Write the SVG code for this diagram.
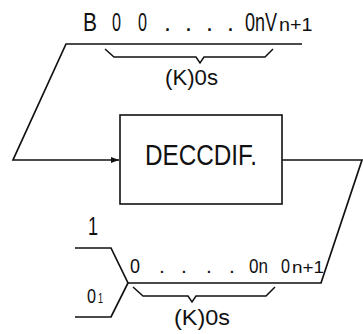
<svg xmlns="http://www.w3.org/2000/svg" width="363" height="334" viewBox="0 0 363 334">
<style>
.ln{fill:none;stroke:#111;stroke-width:1.7;stroke-linejoin:miter}
.br{fill:none;stroke:#111;stroke-width:1.5}
text{font-family:"Liberation Sans","DejaVu Sans",sans-serif;fill:#111}
.t24{font-size:25px}
.t21{font-size:21px}
.t16{font-size:16px}
</style>
<defs>
<marker id="ah" markerWidth="8" markerHeight="6" refX="8" refY="3" orient="auto" markerUnits="userSpaceOnUse">
<path d="M0,0 L8,3 L0,6 Z" fill="#111"/>
</marker>
</defs>
<rect width="363" height="334" fill="#fff"/>
<g id="connectors">
<path class="ln" d="M302,44 L66,44 L13,160 L119,160" marker-end="url(#ah)"/>
<path class="ln" d="M282,160 L362,160 L321,283 L128,283"/>
<path class="ln" d="M75,248 L111,248 L128,283 L111,317 L75,317"/>
</g>
<g id="decoder">
<rect x="120" y="115" width="162" height="89" fill="#fff" stroke="#111" stroke-width="1.6"/>
<text x="145" y="165" font-size="30" textLength="112" lengthAdjust="spacingAndGlyphs">DECCDIF.</text>
</g>
<g id="top-sequence">
<text class="t24" x="83" y="31" textLength="14" lengthAdjust="spacingAndGlyphs">B</text>
<text class="t24" x="112" y="31" textLength="9" lengthAdjust="spacingAndGlyphs">0</text>
<text class="t24" x="138" y="31" textLength="9" lengthAdjust="spacingAndGlyphs">0</text>
<text class="t24" x="164" y="31">.</text>
<text class="t24" x="185" y="31">.</text>
<text class="t24" x="206" y="31">.</text>
<text class="t24" x="227" y="31">.</text>
<text class="t24" transform="translate(245,31) scale(0.72,1)">0nV</text>
<text transform="translate(279,31) scale(1.04,1)" font-size="19">n+1</text>
<path class="br" d="M105,49 L114,57 L196,57 L200,63 L204,57 L265,57 L273,49"/>
<text x="165" y="85" font-size="22" textLength="53" lengthAdjust="spacingAndGlyphs">(K)0s</text>
</g>
<g id="bottom-sequence">
<text class="t24" x="88" y="235" textLength="10" lengthAdjust="spacingAndGlyphs">1</text>
<text class="t21" x="87" y="303" textLength="9" lengthAdjust="spacingAndGlyphs">0</text>
<text x="98" y="303" font-size="14" textLength="5" lengthAdjust="spacingAndGlyphs">1</text>
<text class="t21" x="130" y="273" textLength="10" lengthAdjust="spacingAndGlyphs">0</text>
<text class="t21" x="159" y="273">.</text>
<text class="t21" x="181" y="273">.</text>
<text class="t21" x="206" y="273">.</text>
<text class="t21" x="229" y="273">.</text>
<text class="t21" x="249" y="273" textLength="19" lengthAdjust="spacingAndGlyphs">0n</text>
<text class="t21" x="281" y="273" textLength="9" lengthAdjust="spacingAndGlyphs">0</text>
<text class="t16" x="292" y="273" textLength="32" lengthAdjust="spacingAndGlyphs">n+1</text>
<path class="br" d="M133,287 L143,296 L188,296 L192,302 L196,296 L266,296 L275,287"/>
<text x="174" y="325" font-size="22" textLength="56" lengthAdjust="spacingAndGlyphs">(K)0s</text>
</g>
</svg>
